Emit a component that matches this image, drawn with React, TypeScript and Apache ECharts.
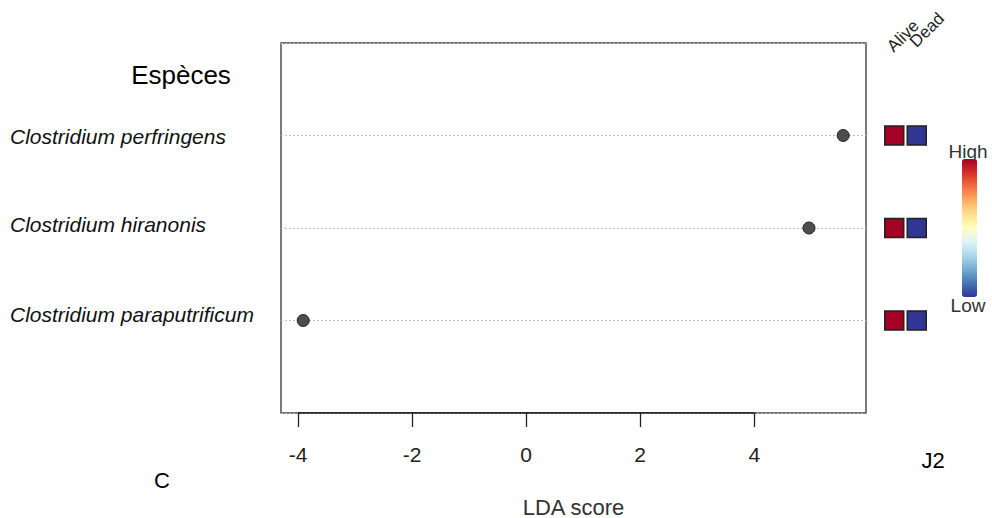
import React, { useEffect, useRef } from "react";
import * as echarts from "echarts";

const species = ["Clostridium paraputrificum", "Clostridium hiranonis", "Clostridium perfringens"];
const ldaScores = [-3.91, 4.96, 5.56];
const groups = ["Alive", "Dead"];
// relative abundance level per species (rows as species order), per group: 1 = High, 0 = Low
const aliveLevel = [1, 1, 1];
const deadLevel = [0, 0, 0];
const xTicks = [-4, -2, 0, 2, 4];
const rampColors = ["#313695", "#4575b4", "#74add1", "#abd9e9", "#e0f3f8", "#ffffbf", "#fee090", "#fdae61", "#f46d43", "#d73027", "#a50026"];

const FONT = "Liberation Sans, Arial, Helvetica, sans-serif";

export default function App() {
  const ref = useRef<HTMLDivElement>(null);
  useEffect(() => {
    const chart = echarts.init(ref.current!, null, { renderer: "svg" });
    const pointData = species.map((s, i) => [ldaScores[i], i + 1]);
    const cellData: any[] = [];
    species.forEach((s, i) => {
      cellData.push([0, i + 1, aliveLevel[i]]);
      cellData.push([1, i + 1, deadLevel[i]]);
    });
    const labelBase = { fontSize: 21, fontStyle: "italic", color: "#111", fontFamily: FONT };
    const option: any = {
      animation: false,
      backgroundColor: "#ffffff",
      textStyle: { fontFamily: FONT },
      grid: [
        { left: 281, right: 126, top: 43, bottom: 105, outerBoundsMode: "none", containLabel: false, show: true, borderColor: "#444", borderWidth: 1.4, backgroundColor: "transparent" },
        { left: 883, width: 45, top: 43, bottom: 105, outerBoundsMode: "none", containLabel: false, show: false },
      ],
      xAxis: [
        {
          type: "value",
          gridIndex: 0,
          min: -4.3,
          max: 5.96,
          axisLine: { show: false },
          splitLine: { show: false },
          axisTick: { show: true, customValues: xTicks, length: 14, lineStyle: { color: "#222", width: 1.3 } },
          axisLabel: { customValues: xTicks, margin: 31, fontSize: 21, color: "#222", fontFamily: FONT },
          name: "LDA score",
          nameLocation: "middle",
          nameGap: 83,
          nameTextStyle: { fontSize: 22, color: "#333", fontFamily: FONT },
        },
        {
          type: "category",
          gridIndex: 1,
          data: groups,
          show: false,
        },
      ],
      yAxis: [
        {
          type: "value",
          gridIndex: 0,
          min: 0,
          max: 4,
          interval: 1,
          axisLine: { show: false },
          axisTick: { show: false },
          splitLine: { show: true, lineStyle: { color: "#bdbdbd", type: [2, 2], width: 1 } },
          axisLabel: {
            margin: 271,
            align: "left",
            ...labelBase,
            formatter: (v: number) => {
              if (!(v >= 1 && v <= species.length)) return "";
              return "{r" + v + "|" + species[v - 1] + "}";
            },
            rich: {
              r1: { ...labelBase, padding: [0, 0, 12, 0] },
              r2: { ...labelBase, padding: [0, 0, 8, 0] },
              r3: { ...labelBase, padding: [2, 0, 0, 0] },
            },
          },
        },
        {
          type: "value",
          gridIndex: 1,
          min: 0,
          max: 4,
          show: false,
        },
      ],
      visualMap: {
        type: "continuous",
        min: 0,
        max: 1,
        seriesIndex: 1,
        dimension: 2,
        calculable: false,
        inRange: { color: rampColors },
        left: 962,
        top: 159,
        itemWidth: 15,
        itemHeight: 138,
        padding: 0,
        text: ["", ""],
        showLabel: false,
      },
      series: [
        {
          type: "scatter",
          xAxisIndex: 0,
          yAxisIndex: 0,
          data: pointData,
          symbol: "circle",
          symbolSize: 12,
          itemStyle: { color: "#4d4d4d", borderColor: "#222", borderWidth: 1, opacity: 1 },
          z: 5,
        },
        {
          type: "scatter",
          xAxisIndex: 1,
          yAxisIndex: 1,
          data: cellData,
          symbol: "rect",
          symbolSize: 19,
          itemStyle: { borderColor: "#222", borderWidth: 1.5, opacity: 1 },
        },
        {
          type: "line",
          xAxisIndex: 0,
          yAxisIndex: 0,
          data: [[xTicks[0], 0], [xTicks[xTicks.length - 1], 0]],
          symbol: "none",
          lineStyle: { color: "#111", width: 1.4 },
          silent: true,
          z: 4,
        },
      ],
      graphic: [
        { type: "text", x: 181, y: 75, style: { text: "Espèces", fontSize: 26, fill: "#000", fontFamily: FONT, align: "center", verticalAlign: "middle" } },
        { type: "text", x: 162, y: 480, style: { text: "C", fontSize: 22, fill: "#000", fontFamily: FONT, align: "center", verticalAlign: "middle" } },
        { type: "text", x: 933, y: 460, style: { text: "J2", fontSize: 22, fill: "#000", fontFamily: FONT, align: "center", verticalAlign: "middle" } },
        { type: "text", x: 903, y: 36, rotation: Math.PI / 4, style: { text: "Alive", fontSize: 17, fill: "#222", fontFamily: FONT, align: "center", verticalAlign: "middle" } },
        { type: "text", x: 927, y: 30, rotation: Math.PI / 4, style: { text: "Dead", fontSize: 17, fill: "#222", fontFamily: FONT, align: "center", verticalAlign: "middle" } },
        { type: "text", x: 968, y: 151, style: { text: "High", fontSize: 19, fill: "#333", fontFamily: FONT, align: "center", verticalAlign: "middle" } },
        { type: "text", x: 968, y: 305, style: { text: "Low", fontSize: 19, fill: "#333", fontFamily: FONT, align: "center", verticalAlign: "middle" } },
      ],
    };
    chart.setOption(option);
    return () => chart.dispose();
  }, []);
  return <div ref={ref} style={{ position: "fixed", left: 0, top: 0, width: 992, height: 518 }} />;
}
